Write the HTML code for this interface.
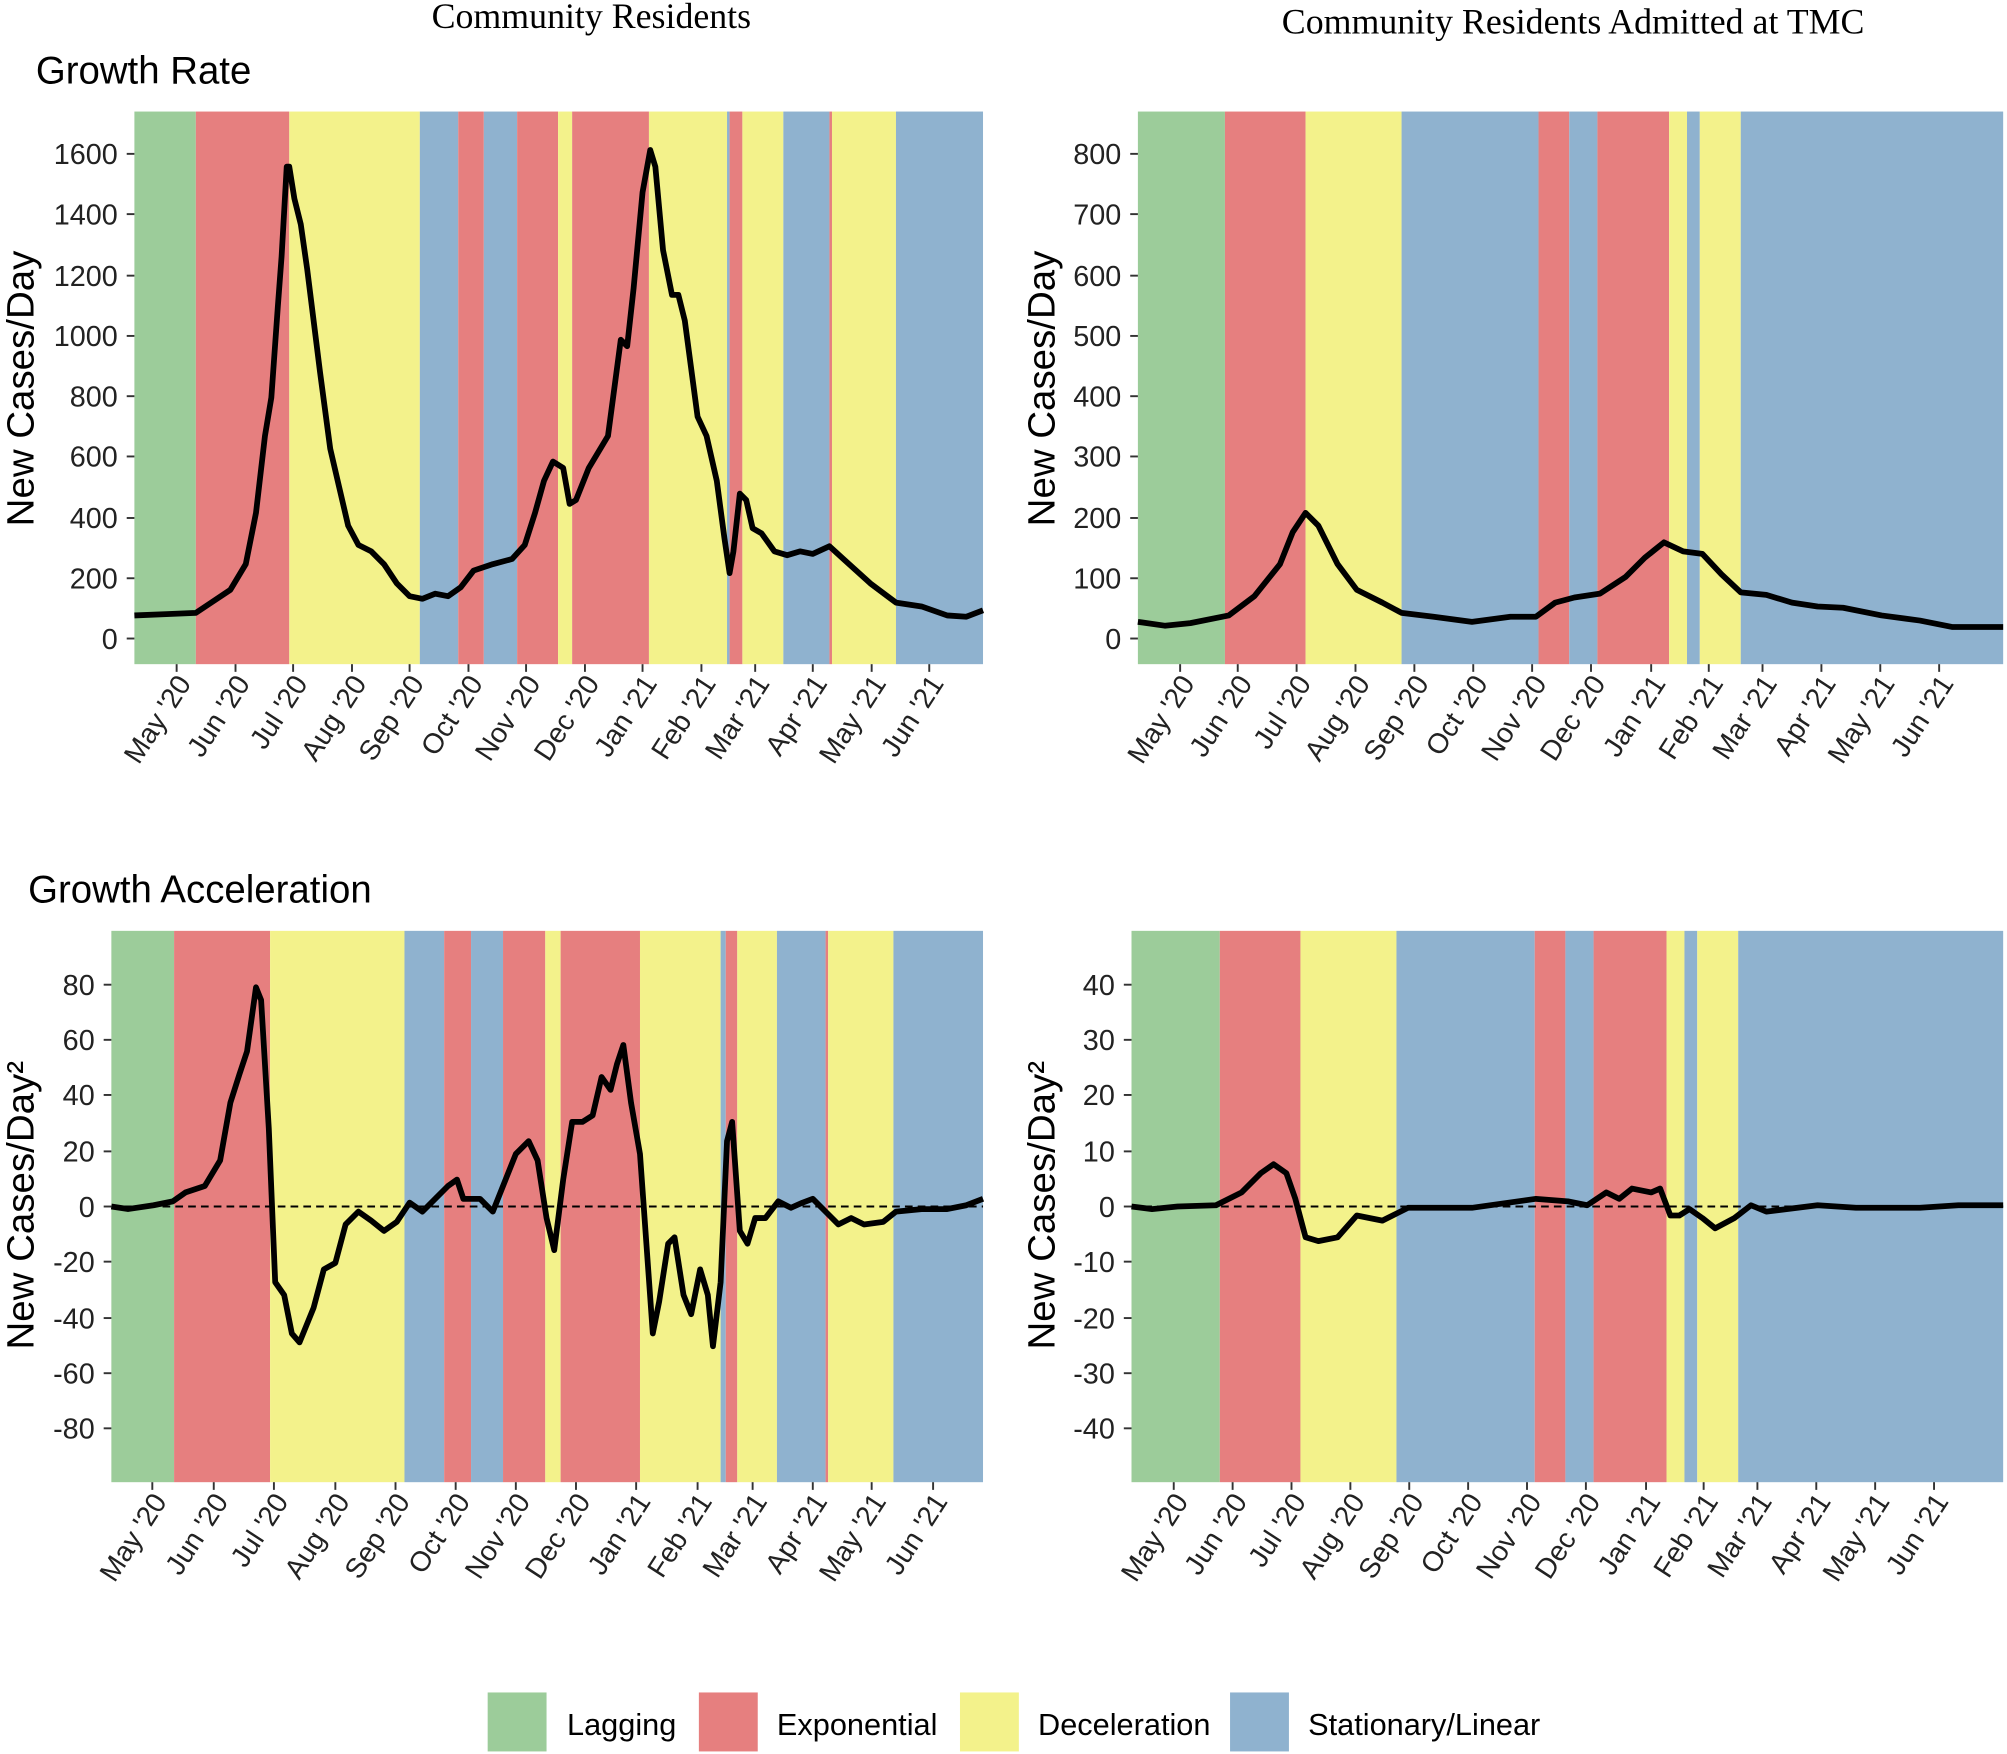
<!DOCTYPE html>
<html><head><meta charset="utf-8"><style>
html,body{margin:0;padding:0;background:#fff;}
svg{display:block;}
.t{font-family:"Liberation Sans",sans-serif;font-size:22.5px;fill:#222;}
.ti{font-family:"Liberation Sans",sans-serif;font-size:22px;fill:#222;}
.yl{font-family:"Liberation Sans",sans-serif;font-size:30px;fill:#000;}
.h{font-family:"Liberation Sans",sans-serif;font-size:30px;fill:#000;}
.st{font-family:"Liberation Serif",serif;font-size:28px;fill:#000;}
.lg{font-family:"Liberation Sans",sans-serif;font-size:24px;fill:#000;}
.c{fill:none;stroke:#000;stroke-width:4.5;stroke-linejoin:round;}
</style></head><body>
<svg width="2007" height="1754" viewBox="0 0 1568 1368" preserveAspectRatio="none" xmlns="http://www.w3.org/2000/svg">
<text class="st" x="462" y="22" text-anchor="middle">Community Residents</text>
<text class="st" x="1229" y="26" text-anchor="middle">Community Residents Admitted at TMC</text>
<text class="h" x="28" y="65">Growth Rate</text>
<text class="h" x="22" y="704">Growth Acceleration</text>

<!-- Panel 1 -->
<g>
<rect x="105" y="87" width="48" height="431" fill="#9ccc9a"/>
<rect x="153" y="87" width="73" height="431" fill="#e67f7f"/>
<rect x="226" y="87" width="102" height="431" fill="#f3f28b"/>
<rect x="328" y="87" width="30" height="431" fill="#8fb2cf"/>
<rect x="358" y="87" width="20" height="431" fill="#e67f7f"/>
<rect x="378" y="87" width="26" height="431" fill="#8fb2cf"/>
<rect x="404" y="87" width="32" height="431" fill="#e67f7f"/>
<rect x="436" y="87" width="11" height="431" fill="#f3f28b"/>
<rect x="447" y="87" width="60" height="431" fill="#e67f7f"/>
<rect x="507" y="87" width="61" height="431" fill="#f3f28b"/>
<rect x="568" y="87" width="2" height="431" fill="#8fb2cf"/>
<rect x="570" y="87" width="10" height="431" fill="#e67f7f"/>
<rect x="580" y="87" width="32" height="431" fill="#f3f28b"/>
<rect x="612" y="87" width="36" height="431" fill="#8fb2cf"/>
<rect x="648" y="87" width="2" height="431" fill="#e67f7f"/>
<rect x="650" y="87" width="50" height="431" fill="#f3f28b"/>
<rect x="700" y="87" width="68" height="431" fill="#8fb2cf"/>
<polyline class="c" points="105,480 130,479 153,478 165,470 180,460 192,440 200,400 207,340 212,310 217,240 220,200 224,130 226,130 230,155 235,175 240,210 245,250 250,290 258,350 265,380 272,410 280,425 290,430 300,440 310,455 320,465 330,467 340,463 350,465 360,458 370,445 385,440 400,436 410,425 418,400 425,375 432,360 440,365 445,393 450,390 460,365 475,340 485,265 490,270 495,225 502,150 508,117 512,130 518,195 525,230 530,230 535,250 545,325 552,340 560,375 566,420 570,447 573,430 578,385 583,390 588,412 595,416 605,430 615,433 625,430 635,432 648,426 660,437 680,455 700,470 720,473 740,480 755,481 768,476"/>
<g stroke="#333" stroke-width="1.5">
<line x1="99" x2="105" y1="498" y2="498"/><line x1="99" x2="105" y1="451" y2="451"/><line x1="99" x2="105" y1="404" y2="404"/><line x1="99" x2="105" y1="356" y2="356"/><line x1="99" x2="105" y1="309" y2="309"/><line x1="99" x2="105" y1="262" y2="262"/><line x1="99" x2="105" y1="215" y2="215"/><line x1="99" x2="105" y1="167" y2="167"/><line x1="99" x2="105" y1="120" y2="120"/>
</g>
<g class="t" text-anchor="end">
<text x="92" y="506">0</text><text x="92" y="459">200</text><text x="92" y="412">400</text><text x="92" y="364">600</text><text x="92" y="317">800</text><text x="92" y="270">1000</text><text x="92" y="223">1200</text><text x="92" y="175">1400</text><text x="92" y="128">1600</text>
</g>
<text class="yl" transform="translate(26,303) rotate(-90)" text-anchor="middle">New Cases/Day</text>
<g stroke="#333" stroke-width="1.5">
<line x1="138" x2="138" y1="518" y2="524"/><line x1="184" x2="184" y1="518" y2="524"/><line x1="229" x2="229" y1="518" y2="524"/><line x1="275" x2="275" y1="518" y2="524"/><line x1="320" x2="320" y1="518" y2="524"/><line x1="366" x2="366" y1="518" y2="524"/><line x1="411" x2="411" y1="518" y2="524"/><line x1="457" x2="457" y1="518" y2="524"/><line x1="502" x2="502" y1="518" y2="524"/><line x1="548" x2="548" y1="518" y2="524"/><line x1="590" x2="590" y1="518" y2="524"/><line x1="635" x2="635" y1="518" y2="524"/><line x1="681" x2="681" y1="518" y2="524"/><line x1="726" x2="726" y1="518" y2="524"/>
</g>
<g class="ti" text-anchor="end">
<text transform="translate(150,533) rotate(-57)">May '20</text><text transform="translate(196,533) rotate(-57)">Jun '20</text><text transform="translate(241,533) rotate(-57)">Jul '20</text><text transform="translate(287,533) rotate(-57)">Aug '20</text><text transform="translate(332,533) rotate(-57)">Sep '20</text><text transform="translate(378,533) rotate(-57)">Oct '20</text><text transform="translate(423,533) rotate(-57)">Nov '20</text><text transform="translate(469,533) rotate(-57)">Dec '20</text><text transform="translate(514,533) rotate(-57)">Jan '21</text><text transform="translate(560,533) rotate(-57)">Feb '21</text><text transform="translate(602,533) rotate(-57)">Mar '21</text><text transform="translate(647,533) rotate(-57)">Apr '21</text><text transform="translate(693,533) rotate(-57)">May '21</text><text transform="translate(738,533) rotate(-57)">Jun '21</text>
</g>
</g>

<!-- Panel 2 -->
<g>
<rect x="889" y="87" width="68" height="431" fill="#9ccc9a"/>
<rect x="957" y="87" width="63" height="431" fill="#e67f7f"/>
<rect x="1020" y="87" width="75" height="431" fill="#f3f28b"/>
<rect x="1095" y="87" width="107" height="431" fill="#8fb2cf"/>
<rect x="1202" y="87" width="24" height="431" fill="#e67f7f"/>
<rect x="1226" y="87" width="22" height="431" fill="#8fb2cf"/>
<rect x="1248" y="87" width="56" height="431" fill="#e67f7f"/>
<rect x="1304" y="87" width="14" height="431" fill="#f3f28b"/>
<rect x="1318" y="87" width="10" height="431" fill="#8fb2cf"/>
<rect x="1328" y="87" width="32" height="431" fill="#f3f28b"/>
<rect x="1360" y="87" width="205" height="431" fill="#8fb2cf"/>
<polyline class="c" points="889,485 910,488 930,486 960,480 980,465 1000,440 1010,415 1020,400 1030,410 1045,440 1060,460 1080,470 1095,478 1120,481 1150,485 1180,481 1200,481 1215,470 1230,466 1250,463 1270,450 1285,435 1300,423 1315,430 1330,432 1345,448 1360,462 1380,464 1400,470 1420,473 1440,474 1470,480 1500,484 1525,489 1565,489"/>
<g stroke="#333" stroke-width="1.5">
<line x1="883" x2="889" y1="498" y2="498"/><line x1="883" x2="889" y1="451" y2="451"/><line x1="883" x2="889" y1="404" y2="404"/><line x1="883" x2="889" y1="356" y2="356"/><line x1="883" x2="889" y1="309" y2="309"/><line x1="883" x2="889" y1="262" y2="262"/><line x1="883" x2="889" y1="215" y2="215"/><line x1="883" x2="889" y1="167" y2="167"/><line x1="883" x2="889" y1="120" y2="120"/>
</g>
<g class="t" text-anchor="end">
<text x="876" y="506">0</text><text x="876" y="459">100</text><text x="876" y="412">200</text><text x="876" y="364">300</text><text x="876" y="317">400</text><text x="876" y="270">500</text><text x="876" y="223">600</text><text x="876" y="175">700</text><text x="876" y="128">800</text>
</g>
<text class="yl" transform="translate(824,303) rotate(-90)" text-anchor="middle">New Cases/Day</text>
<g stroke="#333" stroke-width="1.5">
<line x1="922" x2="922" y1="518" y2="524"/><line x1="967" x2="967" y1="518" y2="524"/><line x1="1013" x2="1013" y1="518" y2="524"/><line x1="1059" x2="1059" y1="518" y2="524"/><line x1="1105" x2="1105" y1="518" y2="524"/><line x1="1151" x2="1151" y1="518" y2="524"/><line x1="1197" x2="1197" y1="518" y2="524"/><line x1="1243" x2="1243" y1="518" y2="524"/><line x1="1290" x2="1290" y1="518" y2="524"/><line x1="1335" x2="1335" y1="518" y2="524"/><line x1="1377" x2="1377" y1="518" y2="524"/><line x1="1423" x2="1423" y1="518" y2="524"/><line x1="1469" x2="1469" y1="518" y2="524"/><line x1="1515" x2="1515" y1="518" y2="524"/>
</g>
<g class="ti" text-anchor="end">
<text transform="translate(934,533) rotate(-57)">May '20</text><text transform="translate(979,533) rotate(-57)">Jun '20</text><text transform="translate(1025,533) rotate(-57)">Jul '20</text><text transform="translate(1071,533) rotate(-57)">Aug '20</text><text transform="translate(1117,533) rotate(-57)">Sep '20</text><text transform="translate(1163,533) rotate(-57)">Oct '20</text><text transform="translate(1209,533) rotate(-57)">Nov '20</text><text transform="translate(1255,533) rotate(-57)">Dec '20</text><text transform="translate(1302,533) rotate(-57)">Jan '21</text><text transform="translate(1347,533) rotate(-57)">Feb '21</text><text transform="translate(1389,533) rotate(-57)">Mar '21</text><text transform="translate(1435,533) rotate(-57)">Apr '21</text><text transform="translate(1481,533) rotate(-57)">May '21</text><text transform="translate(1527,533) rotate(-57)">Jun '21</text>
</g>
</g>

<!-- Panel 3 -->
<g>
<rect x="87" y="726" width="49" height="430" fill="#9ccc9a"/>
<rect x="136" y="726" width="75" height="430" fill="#e67f7f"/>
<rect x="211" y="726" width="105" height="430" fill="#f3f28b"/>
<rect x="316" y="726" width="31" height="430" fill="#8fb2cf"/>
<rect x="347" y="726" width="21" height="430" fill="#e67f7f"/>
<rect x="368" y="726" width="25" height="430" fill="#8fb2cf"/>
<rect x="393" y="726" width="33" height="430" fill="#e67f7f"/>
<rect x="426" y="726" width="12" height="430" fill="#f3f28b"/>
<rect x="438" y="726" width="62" height="430" fill="#e67f7f"/>
<rect x="500" y="726" width="63" height="430" fill="#f3f28b"/>
<rect x="563" y="726" width="4" height="430" fill="#8fb2cf"/>
<rect x="567" y="726" width="9" height="430" fill="#e67f7f"/>
<rect x="576" y="726" width="31" height="430" fill="#f3f28b"/>
<rect x="607" y="726" width="38" height="430" fill="#8fb2cf"/>
<rect x="645" y="726" width="2" height="430" fill="#e67f7f"/>
<rect x="647" y="726" width="51" height="430" fill="#f3f28b"/>
<rect x="698" y="726" width="70" height="430" fill="#8fb2cf"/>
<line x1="87" x2="768" y1="941" y2="941" stroke="#000" stroke-width="1.5" stroke-dasharray="6,4"/>
<polyline class="c" points="87,941 100,943 120,940 135,937 145,930 160,925 172,905 180,860 187,838 193,820 200,770 204,780 210,880 215,1000 222,1010 228,1040 234,1047 245,1020 253,990 262,985 270,955 280,945 290,952 300,960 310,953 320,938 330,945 340,935 350,925 357,920 362,935 375,935 385,945 395,920 403,900 413,890 420,905 427,950 433,975 440,920 447,875 455,875 463,870 470,840 477,850 482,830 487,815 493,860 500,900 505,970 510,1040 515,1015 522,970 527,965 534,1010 540,1025 547,990 553,1010 557,1050 563,1000 568,890 572,875 578,960 584,970 590,950 598,950 608,937 618,942 627,938 635,935 645,945 655,955 665,950 675,955 690,953 700,945 720,943 740,943 755,940 768,935"/>
<g stroke="#333" stroke-width="1.5">
<line x1="81" x2="87" y1="768" y2="768"/><line x1="81" x2="87" y1="811" y2="811"/><line x1="81" x2="87" y1="854" y2="854"/><line x1="81" x2="87" y1="898" y2="898"/><line x1="81" x2="87" y1="941" y2="941"/><line x1="81" x2="87" y1="984" y2="984"/><line x1="81" x2="87" y1="1028" y2="1028"/><line x1="81" x2="87" y1="1071" y2="1071"/><line x1="81" x2="87" y1="1114" y2="1114"/>
</g>
<g class="t" text-anchor="end">
<text x="74" y="776">80</text><text x="74" y="819">60</text><text x="74" y="862">40</text><text x="74" y="906">20</text><text x="74" y="949">0</text><text x="74" y="992">-20</text><text x="74" y="1036">-40</text><text x="74" y="1079">-60</text><text x="74" y="1122">-80</text>
</g>
<text class="yl" transform="translate(26,940) rotate(-90)" text-anchor="middle">New Cases/Day²</text>
<g stroke="#333" stroke-width="1.5">
<line x1="119" x2="119" y1="1156" y2="1162"/><line x1="167" x2="167" y1="1156" y2="1162"/><line x1="214" x2="214" y1="1156" y2="1162"/><line x1="262" x2="262" y1="1156" y2="1162"/><line x1="309" x2="309" y1="1156" y2="1162"/><line x1="356" x2="356" y1="1156" y2="1162"/><line x1="403" x2="403" y1="1156" y2="1162"/><line x1="450" x2="450" y1="1156" y2="1162"/><line x1="497" x2="497" y1="1156" y2="1162"/><line x1="545" x2="545" y1="1156" y2="1162"/><line x1="588" x2="588" y1="1156" y2="1162"/><line x1="635" x2="635" y1="1156" y2="1162"/><line x1="681" x2="681" y1="1156" y2="1162"/><line x1="729" x2="729" y1="1156" y2="1162"/>
</g>
<g class="ti" text-anchor="end">
<text transform="translate(131,1171) rotate(-57)">May '20</text><text transform="translate(179,1171) rotate(-57)">Jun '20</text><text transform="translate(226,1171) rotate(-57)">Jul '20</text><text transform="translate(274,1171) rotate(-57)">Aug '20</text><text transform="translate(321,1171) rotate(-57)">Sep '20</text><text transform="translate(368,1171) rotate(-57)">Oct '20</text><text transform="translate(415,1171) rotate(-57)">Nov '20</text><text transform="translate(462,1171) rotate(-57)">Dec '20</text><text transform="translate(509,1171) rotate(-57)">Jan '21</text><text transform="translate(557,1171) rotate(-57)">Feb '21</text><text transform="translate(600,1171) rotate(-57)">Mar '21</text><text transform="translate(647,1171) rotate(-57)">Apr '21</text><text transform="translate(693,1171) rotate(-57)">May '21</text><text transform="translate(741,1171) rotate(-57)">Jun '21</text>
</g>
</g>

<!-- Panel 4 -->
<g>
<rect x="884" y="726" width="69" height="430" fill="#9ccc9a"/>
<rect x="953" y="726" width="63" height="430" fill="#e67f7f"/>
<rect x="1016" y="726" width="75" height="430" fill="#f3f28b"/>
<rect x="1091" y="726" width="108" height="430" fill="#8fb2cf"/>
<rect x="1199" y="726" width="24" height="430" fill="#e67f7f"/>
<rect x="1223" y="726" width="22" height="430" fill="#8fb2cf"/>
<rect x="1245" y="726" width="57" height="430" fill="#e67f7f"/>
<rect x="1302" y="726" width="14" height="430" fill="#f3f28b"/>
<rect x="1316" y="726" width="10" height="430" fill="#8fb2cf"/>
<rect x="1326" y="726" width="32" height="430" fill="#f3f28b"/>
<rect x="1358" y="726" width="207" height="430" fill="#8fb2cf"/>
<line x1="884" x2="1565" y1="941" y2="941" stroke="#000" stroke-width="1.5" stroke-dasharray="6,4"/>
<polyline class="c" points="884,941 900,943 920,941 950,940 970,930 985,915 995,908 1005,915 1012,935 1020,965 1030,968 1045,965 1060,948 1080,952 1100,942 1150,942 1200,935 1225,937 1240,940 1255,930 1265,935 1275,927 1290,930 1297,927 1305,948 1312,948 1320,943 1330,950 1340,958 1355,950 1368,940 1380,945 1420,940 1450,942 1500,942 1530,940 1565,940"/>
<g stroke="#333" stroke-width="1.5">
<line x1="878" x2="884" y1="768" y2="768"/><line x1="878" x2="884" y1="811" y2="811"/><line x1="878" x2="884" y1="854" y2="854"/><line x1="878" x2="884" y1="898" y2="898"/><line x1="878" x2="884" y1="941" y2="941"/><line x1="878" x2="884" y1="984" y2="984"/><line x1="878" x2="884" y1="1028" y2="1028"/><line x1="878" x2="884" y1="1071" y2="1071"/><line x1="878" x2="884" y1="1114" y2="1114"/>
</g>
<g class="t" text-anchor="end">
<text x="871" y="776">40</text><text x="871" y="819">30</text><text x="871" y="862">20</text><text x="871" y="906">10</text><text x="871" y="949">0</text><text x="871" y="992">-10</text><text x="871" y="1036">-20</text><text x="871" y="1079">-30</text><text x="871" y="1122">-40</text>
</g>
<text class="yl" transform="translate(824,940) rotate(-90)" text-anchor="middle">New Cases/Day²</text>
<g stroke="#333" stroke-width="1.5">
<line x1="917" x2="917" y1="1156" y2="1162"/><line x1="963" x2="963" y1="1156" y2="1162"/><line x1="1009" x2="1009" y1="1156" y2="1162"/><line x1="1055" x2="1055" y1="1156" y2="1162"/><line x1="1101" x2="1101" y1="1156" y2="1162"/><line x1="1147" x2="1147" y1="1156" y2="1162"/><line x1="1193" x2="1193" y1="1156" y2="1162"/><line x1="1239" x2="1239" y1="1156" y2="1162"/><line x1="1286" x2="1286" y1="1156" y2="1162"/><line x1="1331" x2="1331" y1="1156" y2="1162"/><line x1="1373" x2="1373" y1="1156" y2="1162"/><line x1="1419" x2="1419" y1="1156" y2="1162"/><line x1="1465" x2="1465" y1="1156" y2="1162"/><line x1="1511" x2="1511" y1="1156" y2="1162"/>
</g>
<g class="ti" text-anchor="end">
<text transform="translate(929,1171) rotate(-57)">May '20</text><text transform="translate(975,1171) rotate(-57)">Jun '20</text><text transform="translate(1021,1171) rotate(-57)">Jul '20</text><text transform="translate(1067,1171) rotate(-57)">Aug '20</text><text transform="translate(1113,1171) rotate(-57)">Sep '20</text><text transform="translate(1159,1171) rotate(-57)">Oct '20</text><text transform="translate(1205,1171) rotate(-57)">Nov '20</text><text transform="translate(1251,1171) rotate(-57)">Dec '20</text><text transform="translate(1298,1171) rotate(-57)">Jan '21</text><text transform="translate(1343,1171) rotate(-57)">Feb '21</text><text transform="translate(1385,1171) rotate(-57)">Mar '21</text><text transform="translate(1431,1171) rotate(-57)">Apr '21</text><text transform="translate(1477,1171) rotate(-57)">May '21</text><text transform="translate(1523,1171) rotate(-57)">Jun '21</text>
</g>
</g>

<!-- Legend -->
<rect x="381" y="1320" width="46" height="46" fill="#9ccc9a"/>
<text class="lg" x="443" y="1353">Lagging</text>
<rect x="546" y="1320" width="46" height="46" fill="#e67f7f"/>
<text class="lg" x="607" y="1353">Exponential</text>
<rect x="750" y="1320" width="46" height="46" fill="#f3f28b"/>
<text class="lg" x="811" y="1353">Deceleration</text>
<rect x="961" y="1320" width="46" height="46" fill="#8fb2cf"/>
<text class="lg" x="1022" y="1353">Stationary/Linear</text>
</svg>
</body></html>
